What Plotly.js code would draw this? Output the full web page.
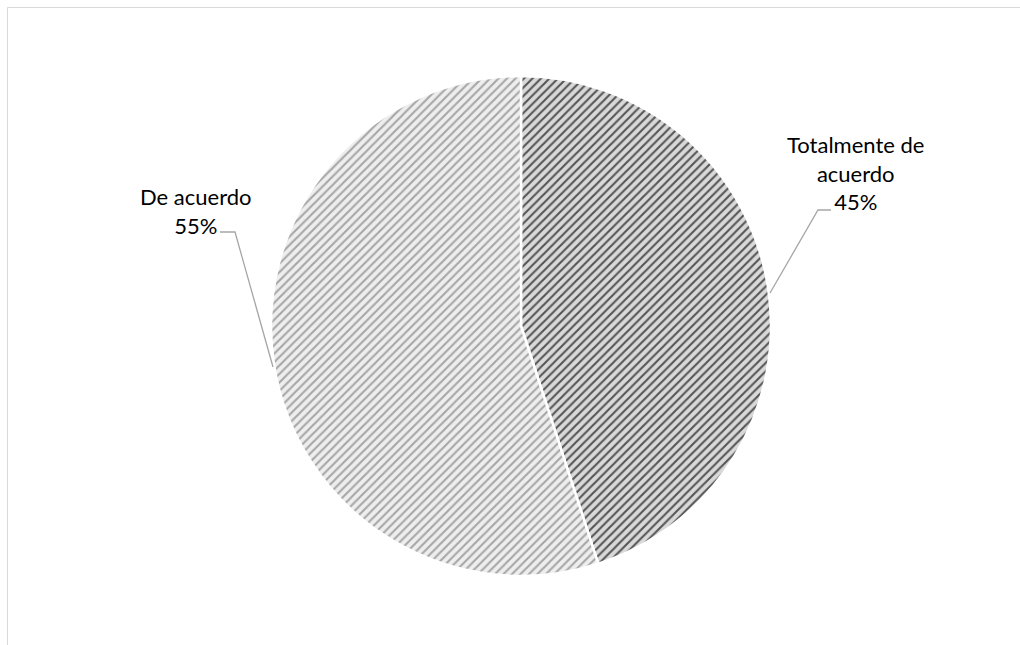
<!DOCTYPE html>
<html>
<head>
<meta charset="utf-8">
<script src="https://cdn.plot.ly/plotly-3.0.1.min.js"></script>
<style>html,body{margin:0;padding:0;background:#fff;}#chart{width:1020px;height:645px;}</style>
</head>
<body>
<div id="chart"></div>
<script>
const categories = ['Totalmente de acuerdo', 'De acuerdo'];
const displayLabels = ['Totalmente de<br>acuerdo', 'De acuerdo'];
const values = [45, 55];
const bgColors = ['#d9d9d9', '#eeeeee'];
const fgColors = ['#555555', '#a6a6a6'];

const W = 1020, H = 645;
const cx = 521, cy = 326, r = 250;
const px = x => x / W;
const py = y => 1 - y / H;

const total = values.reduce((a, b) => a + b, 0);
const pct = values.map(v => Math.round(v / total * 100));

const trace = {
  type: 'pie',
  labels: categories,
  values: values,
  sort: false,
  direction: 'clockwise',
  rotation: 0,
  textinfo: 'none',
  hoverinfo: 'label+percent',
  showlegend: false,
  domain: {x: [px(cx - r), px(cx + r)], y: [py(cy + r), py(cy - r)]},
  marker: {
    colors: bgColors,
    line: {color: '#ffffff', width: 2.5},
    pattern: {shape: ['/', '/'], bgcolor: bgColors, fgcolor: fgColors, size: 6, solidity: 0.35}
  }
};

const labelFont = {family: 'Lato, Carlito, "Open Sans", sans-serif', size: 22, color: '#000'};

const layout = {
  width: W, height: H,
  margin: {l: 0, r: 0, t: 0, b: 0},
  paper_bgcolor: '#ffffff',
  showlegend: false,
  annotations: [
    {xref: 'paper', yref: 'paper', x: px(855), y: py(173), text: displayLabels[0] + '<br>' + pct[0] + '%',
     showarrow: false, font: labelFont, align: 'center', xanchor: 'center', yanchor: 'middle'},
    {xref: 'paper', yref: 'paper', x: px(196), y: py(211), text: displayLabels[1] + '<br>' + pct[1] + '%',
     showarrow: false, font: labelFont, align: 'center', xanchor: 'center', yanchor: 'middle'}
  ],
  shapes: [
    {type: 'rect', xref: 'paper', yref: 'paper', x0: px(7.5), x1: 1.2, y0: -0.2, y1: py(7.5),
     line: {color: '#d9d9d9', width: 1}, fillcolor: 'rgba(0,0,0,0)', layer: 'below'},
    {type: 'path', xref: 'paper', yref: 'paper',
     path: `M ${px(831)} ${py(210)} L ${px(818)} ${py(210)} L ${px(770)} ${py(293)}`,
     line: {color: '#a6a6a6', width: 1.3}},
    {type: 'path', xref: 'paper', yref: 'paper',
     path: `M ${px(220)} ${py(232)} L ${px(235)} ${py(232)} L ${px(273)} ${py(367)}`,
     line: {color: '#a6a6a6', width: 1.3}}
  ]
};

Plotly.newPlot('chart', [trace], layout, {displayModeBar: false, staticPlot: true});
</script>
</body>
</html>
